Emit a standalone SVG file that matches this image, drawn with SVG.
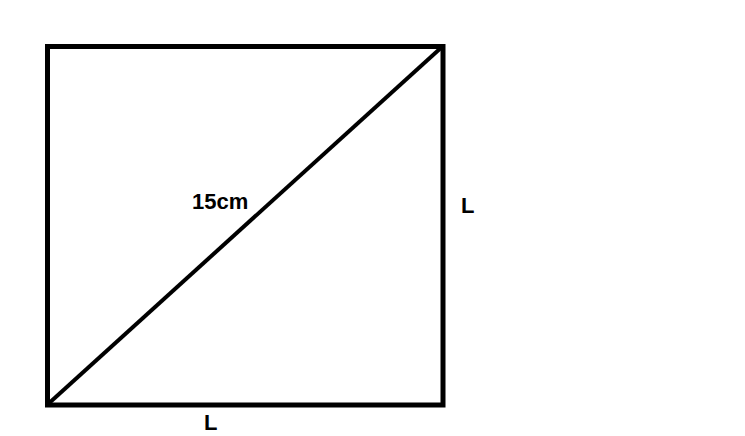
<svg xmlns="http://www.w3.org/2000/svg" width="745" height="436" viewBox="0 0 745 436">
<style>
.t{font-family:"Liberation Sans","Open Sans",sans-serif;font-weight:bold;font-size:22px;fill:#000}
.s{fill:none;stroke:#000}
</style>
<rect width="745" height="436" fill="#fff"/>
<g id="square"><rect class="s" x="47.5" y="46.5" width="395.5" height="358.5" stroke-width="5"/></g>
<g id="connectors"><line class="s" x1="47" y1="405" x2="443" y2="46" stroke-width="4"/></g>
<g id="labels">
<text class="t" x="192" y="209">15cm</text>
<text class="t" x="461" y="213">L</text>
<text class="t" x="204" y="430">L</text>
</g>
</svg>
